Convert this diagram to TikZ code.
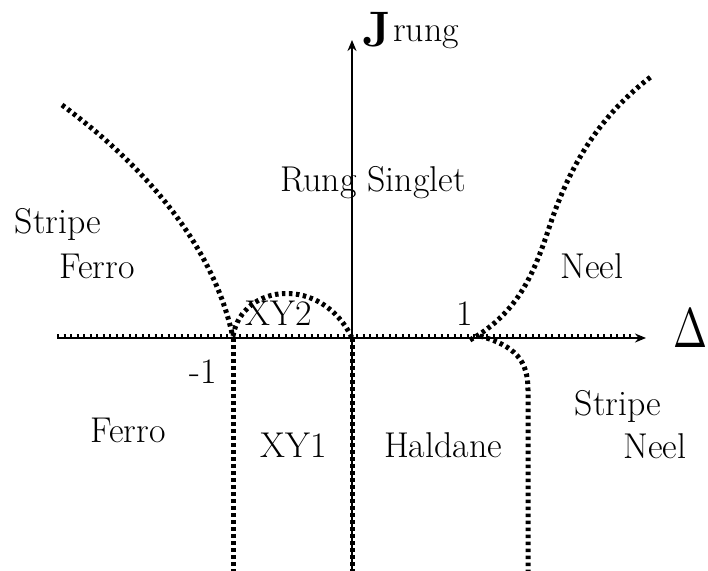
\documentclass[tikz,border=0pt]{standalone}
\usetikzlibrary{arrows.meta}
\begin{document}
\begin{tikzpicture}[x=1bp,y=-1bp,
  lab/.style={anchor=base,inner sep=0pt,font=\fontsize{36}{40}\selectfont},
  axis/.style={line width=2.2bp,-{Stealth[length=11bp,width=9bp]}},
  axdots/.style={line width=3.6bp,dash pattern=on 2bp off 4.5bp},
  bound/.style={line width=5bp,dash pattern=on 3.5bp off 3.5bp}]
\useasboundingbox (0,0) rectangle (708,571);
% axes
\coordinate (xl) at (57,338);
\coordinate (xr) at (646,338);
\coordinate (yb) at (352,571);
\coordinate (yt) at (352,40);
\coordinate (o) at (352,338);
\draw[axis] (xl) -- (xr);
\draw[axis] (yb) -- (yt);
\draw[axdots] (57,336) -- (635,336);
% boundaries
\draw[bound] (62,105) .. controls (150,170) and (215,250) .. (233,338);
\draw[bound] (233,338) -- (233,571);
\draw[bound] (o) -- (yb);
\draw[bound] (233,336) .. controls (242,283) and (322,275) .. (352,338);
\draw[bound] (470,340) .. controls (520,312) and (535,270) .. (550,225) .. controls (570,165) and (600,115) .. (652,76);
\draw[bound] (480,336) .. controls (515,346) and (528,360) .. (528,390) -- (528,571);
% labels
\node[lab,anchor=base east,font=\fontsize{50}{54}\selectfont\bfseries] (jr) at (392,47) {J};
\node[lab,anchor=base west] (rung) at (393,42) {rung};
\node[anchor=base west,inner sep=0pt,font=\normalsize,xscale=4.1,yscale=5.6] (delta) at (673,347) {$\Delta$};
\node[lab] (rs) at (373,192) {Rung Singlet};
\node[lab] (sf1) at (58,233) {Stripe};
\node[lab] (sf2) at (97,278) {Ferro};
\node[lab] (xy2) at (279,325) {XY2};
\node[lab] (m1) at (203,383) {-1};
\node[lab] (p1) at (465,325) {1};
\node[lab] (neel) at (592,278) {Neel};
\node[lab] (ferro) at (128,442) {Ferro};
\node[lab] (xy1) at (294,457) {XY1};
\node[lab] (hal) at (443,457) {Haldane};
\node[lab] (sn1) at (618,415) {Stripe};
\node[lab] (sn2) at (655,458) {Neel};
\end{tikzpicture}
\end{document}
